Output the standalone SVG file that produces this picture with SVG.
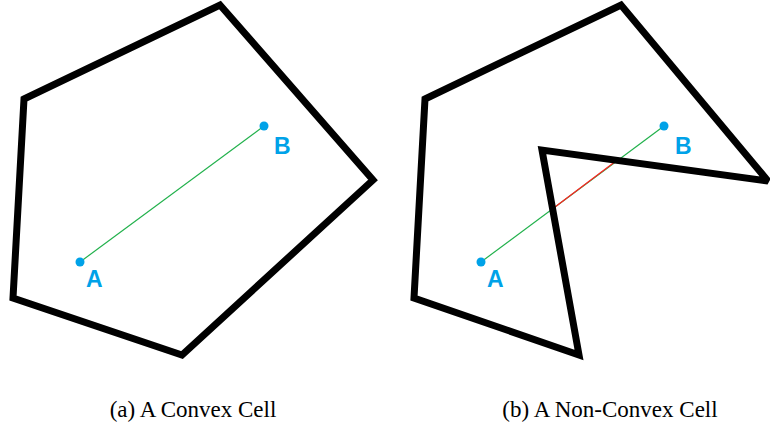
<svg xmlns="http://www.w3.org/2000/svg" width="770" height="438" viewBox="0 0 770 438">
<style>
.cell{fill:none;stroke:#000;stroke-width:7;stroke-linejoin:miter;stroke-miterlimit:2}
.pt{fill:#00a2e8}
.lbl{font-family:"Liberation Sans",Arial,sans-serif;font-weight:bold;font-size:23px;fill:#00a2e8}
.ok{stroke:#22b14c;stroke-width:1.2;fill:none}
.bad{stroke:#ff2020;stroke-width:1.2;fill:none}
.cap{font-family:"Liberation Serif","Times New Roman",serif;font-size:23px;fill:#000;text-anchor:middle}
</style>
<g id="connectors">
<line class="ok" x1="80" y1="262" x2="264" y2="126"/>
<line class="ok" x1="481" y1="262" x2="664" y2="126"/>
<line class="bad" x1="553" y1="208.5" x2="618" y2="159.5"/>
</g>
<g id="convex-cell">
<polygon class="cell" points="24,99 220,5 373,180 182,355 13,298"/>
</g>
<g id="nonconvex-cell">
<polygon class="cell" points="425,99 621,5 768,181 542,150 579,355 414,298"/>
</g>
<g id="pointA-left"><circle class="pt" cx="80" cy="262" r="4.5"/><text class="lbl" x="86" y="287">A</text></g>
<g id="pointB-left"><circle class="pt" cx="264" cy="126" r="4.5"/><text class="lbl" x="274" y="154">B</text></g>
<g id="pointA-right"><circle class="pt" cx="481" cy="262" r="4.5"/><text class="lbl" x="487" y="287">A</text></g>
<g id="pointB-right"><circle class="pt" cx="664" cy="126" r="4.5"/><text class="lbl" x="675" y="154">B</text></g>
<g id="captions">
<text class="cap" x="193" y="417">(a) A Convex Cell</text>
<text class="cap" x="610" y="417">(b) A Non-Convex Cell</text>
</g>
</svg>
